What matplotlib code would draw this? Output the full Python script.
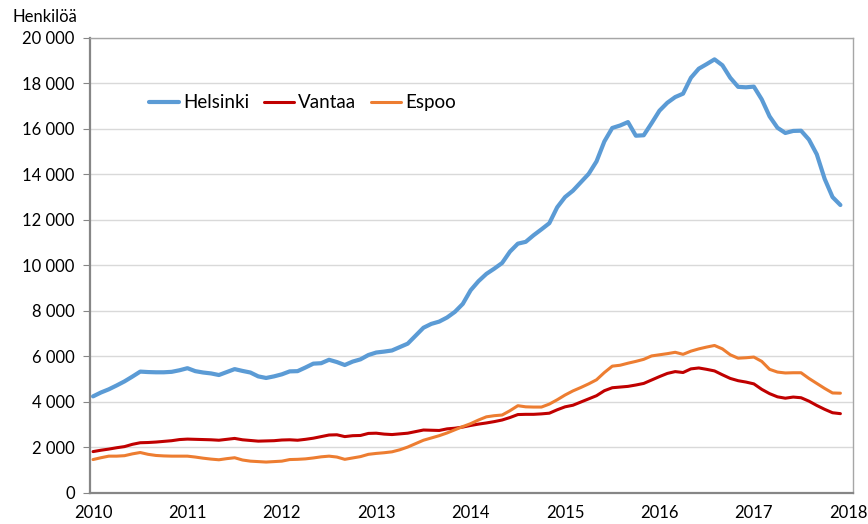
import numpy as np
import matplotlib
matplotlib.use('Agg')
import matplotlib.pyplot as plt

plt.rcParams['font.family'] = ['Lato', 'DejaVu Sans']

# monthly values, Jan 2010 - Dec 2017
helsinki = [4230, 4400, 4540, 4710, 4890, 5100, 5320, 5300, 5290, 5290, 5310, 5380,
            5470, 5340, 5280, 5240, 5170, 5300, 5430, 5350, 5280, 5110, 5040, 5110,
            5200, 5330, 5340, 5500, 5670, 5690, 5840, 5740, 5610, 5760, 5860, 6050,
            6160, 6200, 6250, 6400, 6550, 6900, 7250, 7420, 7520, 7700, 7950, 8300,
            8900, 9300, 9620, 9850, 10100, 10600, 10950, 11030, 11320, 11580, 11850, 12550,
            13000, 13280, 13650, 14020, 14570, 15450, 16040, 16150, 16300, 15700, 15720, 16250,
            16800, 17150, 17400, 17550, 18250, 18650, 18850, 19060, 18800, 18250, 17850, 17830,
            17860, 17300, 16550, 16050, 15820, 15910, 15920, 15530, 14880, 13800, 13000, 12650]
vantaa = [1800, 1860, 1910, 1970, 2020, 2120, 2190, 2200, 2220, 2250, 2280, 2330,
          2350, 2340, 2330, 2320, 2300, 2340, 2380, 2320, 2290, 2260, 2270, 2280,
          2310, 2320, 2300, 2340, 2390, 2460, 2530, 2540, 2460, 2500, 2510, 2600,
          2610, 2570, 2550, 2580, 2610, 2680, 2750, 2740, 2730, 2800, 2830, 2880,
          2950, 3010, 3060, 3120, 3190, 3300, 3430, 3440, 3440, 3460, 3490, 3640,
          3770, 3840, 3980, 4120, 4260, 4480, 4610, 4640, 4670, 4730, 4800, 4950,
          5100, 5240, 5320, 5280, 5440, 5480, 5420, 5350, 5180, 5020, 4920, 4860,
          4780, 4540, 4350, 4210, 4150, 4200, 4170, 4020, 3830, 3660, 3510, 3470]
espoo = [1450, 1530, 1600, 1600, 1620, 1700, 1760, 1680, 1630, 1610, 1600, 1600,
         1600, 1560, 1510, 1470, 1440, 1490, 1530, 1430, 1380, 1360, 1340, 1360,
         1380, 1450, 1460, 1480, 1520, 1570, 1600, 1560, 1460, 1520, 1580, 1680,
         1720, 1750, 1790, 1880, 2000, 2150, 2300, 2400, 2500, 2620, 2760, 2900,
         3030, 3190, 3330, 3380, 3410, 3600, 3820, 3770, 3760, 3760, 3890, 4080,
         4290, 4470, 4620, 4780, 4960, 5280, 5560, 5600, 5690, 5770, 5860, 6010,
         6060, 6110, 6170, 6080, 6220, 6320, 6400, 6470, 6320, 6060, 5910, 5930,
         5960, 5770, 5420, 5300, 5260, 5270, 5270, 5020, 4800, 4580, 4380, 4370]
years = list(range(2010, 2019))

t = 2010 + np.arange(len(helsinki)) / 12

fig = plt.figure(figsize=(8.68, 5.24), dpi=100)
ax = fig.add_axes([0.1037, 0.0601, 0.879, 0.8674])

ax.plot(t, helsinki, color='#5B9BD5', lw=3.0, label='Helsinki', solid_capstyle='round')
ax.plot(t, vantaa, color='#C00000', lw=2.2, label='Vantaa', solid_capstyle='round')
ax.plot(t, espoo, color='#ED7D31', lw=2.2, label='Espoo', solid_capstyle='round')

ax.set_ylim(0, 20000)
ax.set_xlim(2010 - 0.032, 2018.05)
ax.set_yticks(range(0, 20001, 2000))
ax.set_yticklabels([f'{v:,}'.replace(',', ' ') for v in range(0, 20001, 2000)])
ax.set_xticks(years)
ax.set_xticklabels([str(y) for y in years])
ax.grid(axis='y', color='#d9d9d9', lw=1)
ax.set_axisbelow(True)
ax.tick_params(axis='y', length=5, color='#868686', labelsize=12, pad=6)
ax.tick_params(axis='x', length=0, labelsize=12, pad=9)

for s in ['left', 'bottom']:
    ax.spines[s].set_color('#868686')
    ax.spines[s].set_linewidth(1.6)
for s in ['top', 'right']:
    ax.spines[s].set_color('#a6a6a6')
    ax.spines[s].set_linewidth(1.0)

fig.text(0.014, 0.967, 'Henkilöä', fontsize=12, va='center', ha='left')

ax.legend(loc='center left', bbox_to_anchor=(0.055, 0.857), ncol=3, frameon=False,
          fontsize=13.5, handlelength=1.6, handletextpad=0.25, columnspacing=0.75)

fig.savefig('out.png', dpi=100)
